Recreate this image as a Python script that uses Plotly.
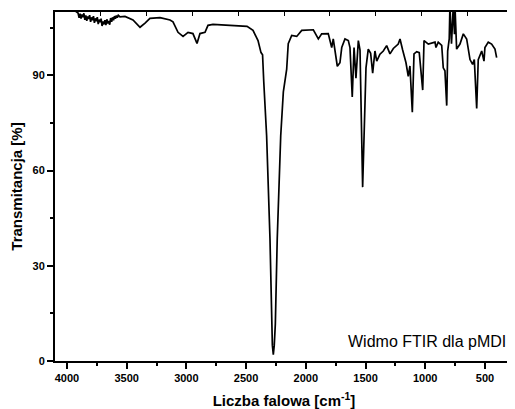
import plotly.graph_objects as go

# Wavenumber [cm-1] and transmittance [%]
wavenumber = [
    4000, 3960, 3930, 3907, 3898, 3890, 3882, 3874, 3866, 3858,
    3850, 3842, 3834, 3826, 3818, 3810, 3802, 3794, 3786, 3778,
    3770, 3762, 3754, 3746, 3738, 3730, 3722, 3714, 3706, 3698,
    3690, 3682, 3674, 3666, 3658, 3650, 3642, 3634, 3626, 3618,
    3610, 3602, 3594, 3586, 3578, 3570, 3556, 3514, 3447, 3388,
    3346, 3305, 3221, 3137, 3112, 3070, 3028, 2986, 2945, 2911,
    2886, 2844, 2819, 2777, 2635, 2492, 2442, 2400, 2375, 2362,
    2352, 2345, 2328, 2300, 2286, 2280, 2272, 2264, 2255, 2239,
    2210, 2188, 2160, 2147, 2118, 2076, 2034, 1937, 1895, 1867,
    1812, 1783, 1770, 1736, 1714, 1699, 1672, 1644, 1630, 1611,
    1596, 1580, 1560, 1546, 1524, 1496, 1477, 1457, 1440, 1421,
    1406, 1379, 1351, 1323, 1295, 1267, 1226, 1211, 1189, 1161,
    1142, 1128, 1108, 1094, 1071, 1050, 1021, 1010, 974, 918,
    910, 891, 862, 849, 835, 820, 812, 799, 793, 780,
    765, 755, 751, 737, 709, 681, 653, 625, 603, 589,
    569, 556, 527, 508, 500, 472, 444, 416, 402,
]
transmittance = [
    111.5, 111.0, 110.3, 109.7, 108.2, 109.5, 107.9, 109.2, 108.4, 109.6,
    107.5, 108.9, 107.2, 108.6, 107.8, 109.0, 106.9, 108.3, 107.4, 108.7,
    106.6, 108.0, 107.1, 108.4, 106.2, 107.6, 106.8, 107.9, 105.6, 107.0,
    106.1, 107.4, 105.9, 107.7, 106.4, 107.2, 106.0, 108.1, 106.9, 108.3,
    107.4, 108.7, 107.9, 108.9, 108.2, 109.0, 108.5, 108.6, 107.5, 105.2,
    106.5, 108.0, 108.2, 107.5, 106.9, 103.6, 102.3, 103.6, 103.2, 100.1,
    103.2, 103.6, 105.8, 106.1, 105.8, 105.5, 104.2, 101.0, 97.2, 96.5,
    88.0, 83.5, 71.0, 38.7, 11.7, 5.0, 2.0, 5.0, 11.7, 38.7,
    71.0, 84.8, 92.0, 100.0, 102.6, 102.3, 104.2, 104.4, 101.5, 103.1,
    103.2, 98.8, 101.5, 92.9, 94.0, 98.8, 101.5, 101.0, 98.8, 83.2,
    98.8, 89.1, 101.0, 98.0, 54.8, 92.4, 98.3, 97.0, 90.7, 97.7,
    94.5, 96.7, 97.7, 99.4, 96.8, 98.5, 99.9, 101.5, 98.0, 94.0,
    89.7, 93.0, 78.4, 96.8, 97.5, 97.2, 85.4, 101.0, 99.9, 100.5,
    98.8, 100.5, 99.5, 92.4, 91.5, 80.5, 97.7, 101.5, 112.0, 100.0,
    112.0, 103.0, 112.0, 98.3, 99.9, 103.1, 101.5, 95.0, 93.5, 95.0,
    79.6, 95.0, 97.7, 94.5, 98.8, 100.5, 99.9, 98.3, 95.6,
]

x_ticks = [4000, 3500, 3000, 2500, 2000, 1500, 1000, 500]
y_ticks = [0, 30, 60, 90]

FONT = "Liberation Sans, Arial, sans-serif"

fig = go.Figure()
fig.add_trace(go.Scatter(
    x=wavenumber, y=transmittance, mode="lines",
    line=dict(color="black", width=1.7), showlegend=False, hoverinfo="skip",
))
# invisible traces carrying the top / right tick axes
fig.add_trace(go.Scatter(
    x=[0], y=[50], xaxis="x2", yaxis="y", mode="markers",
    marker=dict(opacity=0), showlegend=False, hoverinfo="skip",
))
fig.add_trace(go.Scatter(
    x=[2000], y=[0], xaxis="x", yaxis="y2", mode="markers",
    marker=dict(opacity=0), showlegend=False, hoverinfo="skip",
))

# page body has an 8px margin, so the figure is sized to fit the window
fig.update_layout(
    width=507, height=401,
    margin=dict(l=47, r=2, t=4, b=48),
    paper_bgcolor="white", plot_bgcolor="white",
    font=dict(family=FONT, color="black"),
    xaxis=dict(
        range=[4100, 265], tickvals=x_ticks, ticktext=[str(v) for v in x_ticks],
        ticks="outside", ticklen=6, tickwidth=1.5, tickcolor="black",
        minor=dict(ticks="outside", ticklen=3, tickwidth=1.5, tickcolor="black",
                   dtick=250, tick0=0, showgrid=False),
        showline=True, linewidth=2, linecolor="black", mirror=True,
        showgrid=False, zeroline=False, automargin=False,
        tickfont=dict(family=FONT, size=11, weight="bold"),
        title=dict(text="Liczba falowa [cm<sup>-1</sup>]",
                   font=dict(family=FONT, size=15, weight="bold"), standoff=13),
    ),
    yaxis=dict(
        range=[0, 110], tickvals=y_ticks, ticktext=[str(v) for v in y_ticks],
        ticks="outside", ticklen=6, tickwidth=1.5, tickcolor="black",
        minor=dict(ticks="outside", ticklen=3, tickwidth=1.5, tickcolor="black",
                   dtick=15, tick0=0, showgrid=False),
        showline=True, linewidth=2, linecolor="black", mirror=True,
        showgrid=False, zeroline=False, automargin=False,
        tickfont=dict(family=FONT, size=11, weight="bold"),
        title=dict(text="Transmitancja [%]",
                   font=dict(family=FONT, size=15, weight="bold"), standoff=8),
    ),
    xaxis2=dict(
        overlaying="x", side="top", range=[0, 10], dtick=1, tick0=0,
        ticks="inside", ticklen=4, tickwidth=1.2, tickcolor="black",
        showticklabels=False, showline=False,
        showgrid=False, zeroline=False, automargin=False,
    ),
    yaxis2=dict(
        overlaying="y", side="right", range=[0, 10], dtick=1, tick0=0,
        ticks="inside", ticklen=4, tickwidth=1.2, tickcolor="black",
        showticklabels=False, showline=False,
        showgrid=False, zeroline=False, automargin=False,
    ),
    annotations=[dict(
        text="Widmo FTIR dla pMDI", xref="paper", yref="paper",
        x=0.99, y=0.025, xanchor="right", yanchor="bottom", showarrow=False,
        font=dict(family=FONT, size=16, color="black"),
    )],
)

fig.write_html("out.html")
